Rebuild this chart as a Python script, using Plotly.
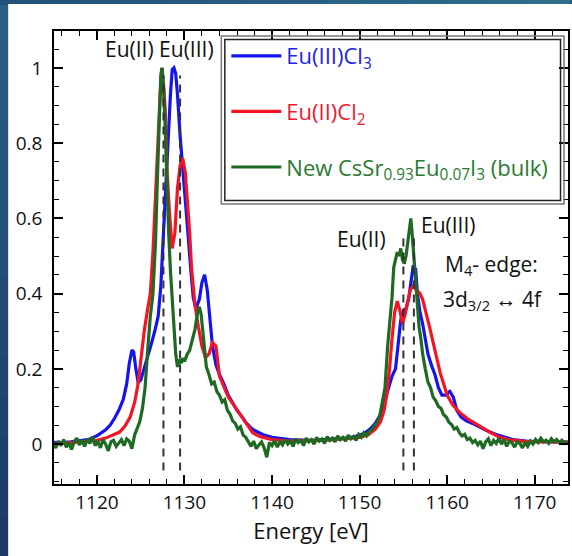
import plotly.graph_objects as go

# ---- Eu(III)Cl3 reference spectrum ----
e_eucl3 = [1115.0, 1116.0, 1117.0, 1118.0, 1119.0, 1120.0, 1121.0, 1121.5, 1122.0, 1122.5,
           1123.0, 1123.4, 1123.7, 1124.0, 1124.2, 1124.45, 1124.7, 1125.0, 1125.4, 1125.8,
           1126.2, 1126.6, 1127.0, 1127.3, 1127.6, 1127.9, 1128.1, 1128.4, 1128.6, 1128.8,
           1129.0, 1129.2, 1129.5, 1129.8, 1130.1, 1130.4, 1130.7, 1131.0, 1131.3, 1131.7,
           1132.0, 1132.3, 1132.6, 1132.9, 1133.2, 1133.6, 1134.0, 1134.5, 1135.0, 1135.5,
           1136.0, 1136.5, 1137.0, 1137.5, 1138.0, 1139.0, 1140.0, 1142.0, 1144.0, 1146.0,
           1148.0, 1149.5, 1150.5, 1151.2, 1151.8, 1152.3, 1152.7, 1153.0, 1153.3, 1153.7,
           1154.1, 1154.4, 1154.7, 1155.0, 1155.3, 1155.6, 1155.9, 1156.1, 1156.4, 1156.6,
           1156.9, 1157.2, 1157.5, 1157.8, 1158.2, 1158.6, 1159.0, 1159.4, 1159.8, 1160.3,
           1160.7, 1161.1, 1161.6, 1162.2, 1162.9, 1163.6, 1164.5, 1165.5, 1166.5, 1167.5,
           1169.0, 1171.0, 1174.0]
i_eucl3 = [0.005, 0.004, 0.006, 0.008, 0.012, 0.022, 0.038, 0.050, 0.068, 0.090,
           0.118, 0.160, 0.215, 0.250, 0.245, 0.200, 0.165, 0.170, 0.200, 0.235,
           0.265, 0.300, 0.340, 0.420, 0.560, 0.680, 0.810, 0.930, 0.995, 1.000,
           0.985, 0.930, 0.820, 0.740, 0.660, 0.560, 0.470, 0.390, 0.360, 0.385,
           0.430, 0.450, 0.410, 0.330, 0.260, 0.210, 0.185, 0.160, 0.130, 0.110,
           0.090, 0.075, 0.058, 0.045, 0.036, 0.025, 0.018, 0.012, 0.010, 0.012,
           0.015, 0.020, 0.028, 0.040, 0.055, 0.075, 0.100, 0.125, 0.150, 0.180,
           0.200, 0.260, 0.330, 0.355, 0.360, 0.385, 0.430, 0.470, 0.465, 0.400,
           0.350, 0.320, 0.280, 0.240, 0.210, 0.185, 0.150, 0.130, 0.130, 0.140,
           0.125, 0.090, 0.072, 0.062, 0.055, 0.046, 0.036, 0.026, 0.018, 0.012,
           0.008, 0.006, 0.005]

# ---- Eu(II)Cl2 reference spectrum ----
e_eucl2 = [1115.0, 1116.0, 1117.0, 1118.0, 1119.0, 1120.0, 1121.0, 1122.0, 1122.6, 1123.2,
           1123.8, 1124.3, 1124.7, 1125.0, 1125.4, 1125.8, 1126.1, 1126.4, 1126.7, 1127.0,
           1127.2, 1127.4, 1127.6, 1127.8, 1128.0, 1128.3, 1128.6, 1128.9, 1129.2, 1129.5,
           1129.8, 1130.1, 1130.4, 1130.6, 1130.8, 1131.2, 1131.6, 1132.0, 1132.4, 1132.8,
           1133.2, 1133.6, 1134.0, 1134.5, 1135.0, 1135.6, 1136.3, 1137.0, 1137.8, 1138.6,
           1140.0, 1142.0, 1144.0, 1146.0, 1148.0, 1150.0, 1151.0, 1151.8, 1152.4, 1152.8,
           1153.1, 1153.4, 1153.7, 1154.0, 1154.3, 1154.6, 1154.9, 1155.2, 1155.5, 1155.8,
           1156.1, 1156.5, 1156.9, 1157.2, 1157.6, 1158.0, 1158.4, 1158.8, 1159.2, 1159.6,
           1160.0, 1160.6, 1161.4, 1162.3, 1163.2, 1164.0, 1165.0, 1166.0, 1167.0, 1168.5,
           1170.0, 1172.0, 1174.0]
i_eucl2 = [0.000, 0.002, 0.002, 0.004, 0.006, 0.010, 0.016, 0.025, 0.032, 0.048,
           0.072, 0.110, 0.160, 0.220, 0.300, 0.360, 0.400, 0.510, 0.680, 0.800,
           0.920, 1.000, 0.960, 0.890, 0.730, 0.610, 0.520, 0.560, 0.680, 0.740,
           0.760, 0.720, 0.630, 0.560, 0.470, 0.370, 0.310, 0.260, 0.230, 0.240,
           0.270, 0.260, 0.180, 0.150, 0.125, 0.105, 0.080, 0.055, 0.030, 0.020,
           0.012, 0.008, 0.008, 0.010, 0.014, 0.018, 0.025, 0.040, 0.060, 0.090,
           0.130, 0.195, 0.280, 0.350, 0.380, 0.355, 0.320, 0.345, 0.380, 0.410,
           0.420, 0.410, 0.400, 0.385, 0.350, 0.310, 0.270, 0.225, 0.190, 0.160,
           0.130, 0.105, 0.085, 0.068, 0.055, 0.045, 0.030, 0.018, 0.012, 0.008,
           0.006, 0.006, 0.005]

# ---- CsSr0.93Eu0.07I3 bulk spectrum (noisy measurement) ----
e_cssri3 = [1115.0, 1115.3, 1115.6, 1115.9, 1116.2, 1116.5, 1116.8, 1117.1, 1117.4, 1117.7,
            1118.0, 1118.3, 1118.6, 1118.9, 1119.2, 1119.5, 1119.8, 1120.1, 1120.4, 1120.7,
            1121.0, 1121.3, 1121.6, 1121.9, 1122.2, 1122.5, 1122.8, 1123.1, 1123.4, 1123.7,
            1124.0, 1124.3, 1124.6, 1124.9, 1125.2, 1125.5, 1125.8, 1126.1, 1126.4, 1126.7,
            1126.9, 1127.1, 1127.3, 1127.45, 1127.6, 1127.8, 1128.0, 1128.2, 1128.4, 1128.6,
            1128.8, 1129.0, 1129.2, 1129.4, 1129.6, 1129.8, 1130.0, 1130.3, 1130.6, 1130.9,
            1131.2, 1131.5, 1131.7, 1131.9, 1132.1, 1132.3, 1132.5, 1132.8, 1133.1, 1133.4,
            1133.7, 1134.0, 1134.3, 1134.6, 1134.9, 1135.2, 1135.5, 1135.8, 1136.1, 1136.4,
            1136.7, 1137.0, 1137.3, 1137.6, 1137.9, 1138.2, 1138.5, 1138.8, 1139.1, 1139.4,
            1139.7, 1140.0, 1140.3, 1140.6, 1140.9, 1141.2, 1141.5, 1141.8, 1142.1, 1142.4,
            1142.7, 1143.0, 1143.3, 1143.6, 1143.9, 1144.2, 1144.5, 1144.8, 1145.1, 1145.4,
            1145.7, 1146.0, 1146.3, 1146.6, 1146.9, 1147.2, 1147.5, 1147.8, 1148.1, 1148.4,
            1148.7, 1149.0, 1149.3, 1149.6, 1149.9, 1150.2, 1150.5, 1150.8, 1151.1, 1151.4,
            1151.7, 1152.0, 1152.3, 1152.6, 1152.9, 1153.2, 1153.5, 1153.7, 1153.9, 1154.1,
            1154.3, 1154.5, 1154.7, 1154.9, 1155.1, 1155.3, 1155.5, 1155.7, 1155.85, 1156.0,
            1156.2, 1156.4, 1156.6, 1156.8, 1157.0, 1157.2, 1157.5, 1157.8, 1158.1, 1158.4,
            1158.7, 1159.0, 1159.3, 1159.6, 1159.9, 1160.2, 1160.5, 1160.8, 1161.1, 1161.4,
            1161.7, 1162.0, 1162.3, 1162.6, 1162.9, 1163.2, 1163.5, 1163.8, 1164.1, 1164.4,
            1164.7, 1165.0, 1165.3, 1165.6, 1165.9, 1166.2, 1166.5, 1166.8, 1167.1, 1167.4,
            1167.7, 1168.0, 1168.3, 1168.6, 1168.9, 1169.2, 1169.5, 1169.8, 1170.1, 1170.4,
            1170.7, 1171.0, 1171.3, 1171.6, 1171.9, 1172.2, 1172.5, 1172.8, 1173.1, 1173.4,
            1173.7]
i_cssri3 = [0.000, -0.010, 0.008, -0.004, 0.012, -0.008, 0.004, -0.014, 0.006, 0.016,
            -0.002, 0.010, -0.006, 0.014, 0.002, 0.020, -0.004, 0.008, -0.010, 0.012,
            0.000, -0.018, 0.006, 0.010, -0.006, 0.004, 0.012, -0.004, 0.014, 0.008,
            -0.012, 0.024, 0.040, 0.060, 0.095, 0.150, 0.250, 0.340, 0.400, 0.540,
            0.700, 0.880, 0.980, 1.000, 0.950, 0.840, 0.690, 0.560, 0.460, 0.380,
            0.300, 0.240, 0.205, 0.225, 0.215, 0.228, 0.220, 0.238, 0.250, 0.275,
            0.305, 0.350, 0.365, 0.345, 0.300, 0.245, 0.205, 0.185, 0.160, 0.165,
            0.140, 0.130, 0.112, 0.118, 0.090, 0.080, 0.062, 0.055, 0.040, 0.046,
            0.024, 0.018, 0.004, -0.006, 0.008, -0.012, -0.002, 0.006, -0.010, -0.035,
            0.004, -0.004, 0.010, -0.008, 0.006, -0.002, 0.012, 0.000, 0.008, -0.006,
            0.014, 0.004, 0.010, -0.004, 0.016, 0.006, 0.012, 0.000, 0.018, 0.008,
            0.014, 0.002, 0.020, 0.010, 0.016, 0.006, 0.022, 0.012, 0.018, 0.008,
            0.024, 0.014, 0.020, 0.010, 0.026, 0.018, 0.030, 0.022, 0.034, 0.038,
            0.048, 0.058, 0.075, 0.110, 0.150, 0.260, 0.340, 0.390, 0.470, 0.495,
            0.510, 0.500, 0.520, 0.490, 0.480, 0.500, 0.540, 0.580, 0.600, 0.560,
            0.500, 0.430, 0.360, 0.310, 0.280, 0.240, 0.200, 0.165, 0.150, 0.125,
            0.115, 0.100, 0.095, 0.078, 0.072, 0.058, 0.052, 0.040, 0.044, 0.030,
            0.022, 0.026, 0.012, 0.016, 0.004, 0.010, -0.002, 0.008, -0.012, 0.006,
            0.014, -0.004, 0.010, 0.002, 0.016, 0.000, 0.012, -0.006, 0.008, 0.004,
            -0.008, 0.006, 0.002, -0.010, 0.004, -0.006, 0.008, 0.000, 0.012, 0.004,
            0.016, 0.006, 0.010, 0.002, 0.014, 0.006, 0.012, 0.004, 0.010, 0.002,
            0.008]

# Eu(II) / Eu(III) reference energies for the M5 and M4 edges (dashed markers)
m5_lines = [1127.6, 1129.5]
m4_lines = [1155.0, 1156.2]
m5_line_span = [-0.07, 0.98]
m4_line_span = [-0.07, 0.55]

# Axis limits and ticks
x_range = [1115.1, 1173.8]
y_range = [-0.106, 1.098]
x_ticks = [1120, 1130, 1140, 1150, 1160, 1170]
y_ticks = [0, 0.2, 0.4, 0.6, 0.8, 1.0]
y_tick_text = ["0", "0.2", "0.4", "0.6", "0.8", "1"]

BLUE = "#1414f0"
RED = "#f51424"
GREEN = "#1f6a22"
FONT = "Open Sans"
INK = "#111111"

fig = go.Figure()

series = [
    (e_eucl3, i_eucl3, BLUE, '<span style="color:#2323e6">Eu(III)Cl<sub>3</sub></span>'),
    (e_eucl2, i_eucl2, RED, '<span style="color:#ee1a2e">Eu(II)Cl<sub>2</sub></span>'),
    (e_cssri3, i_cssri3, GREEN,
     '<span style="color:#2b7a30">New CsSr<sub>0.93</sub>Eu<sub>0.07</sub>I<sub>3</sub> (bulk)</span>'),
]
for k, (ex, iy, col, name) in enumerate(series):
    fig.add_trace(go.Scatter(x=ex, y=iy, mode="lines", name=name,
                             legendgroup=f"g{k}",
                             line=dict(color=col, width=3.2)))

# dashed reference markers
for e in m5_lines:
    fig.add_trace(go.Scatter(x=[e, e], y=m5_line_span, mode="lines", showlegend=False,
                             line=dict(color="#333333", width=2, dash="8px,6px"),
                             hoverinfo="skip"))
for e in m4_lines:
    fig.add_trace(go.Scatter(x=[e, e], y=m4_line_span, mode="lines", showlegend=False,
                             line=dict(color="#333333", width=2, dash="8px,6px"),
                             hoverinfo="skip"))

W, H = 572, 556
L, R, T, B = 54, 2, 31, 72
pw, ph = W - L - R, H - T - B


def px_x(p):
    return (p - L) / pw


def px_y(p):
    return (H - B - p) / ph


def mix(c1, c2, t):
    a = [int(c1[i:i + 2], 16) for i in (1, 3, 5)]
    b = [int(c2[i:i + 2], 16) for i in (1, 3, 5)]
    return "#" + "".join(f"{round(x + (y - x) * t):02x}" for x, y in zip(a, b))


shapes = []
# dark slide frame: vertical gradient on the left strip, horizontal one along the top
n = 14
for k in range(n):
    shapes.append(dict(type="rect", xref="paper", yref="paper", layer="below",
                       x0=px_x(-2), x1=px_x(9),
                       y0=px_y(k * H / n), y1=px_y((k + 1) * H / n + 1),
                       fillcolor=mix("#2a5e84", "#1b3b66", k / (n - 1)), line=dict(width=0)))
    shapes.append(dict(type="rect", xref="paper", yref="paper", layer="below",
                       x0=px_x(k * W / n), x1=px_x((k + 1) * W / n + 1),
                       y0=px_y(5), y1=px_y(-2),
                       fillcolor=mix("#22507a", "#2f6d8b", k / (n - 1)), line=dict(width=0)))
# white page panel
shapes.append(dict(type="rect", xref="paper", yref="paper", layer="below",
                   x0=px_x(8), x1=px_x(W + 2), y0=px_y(H + 2), y1=px_y(4),
                   fillcolor="white", line=dict(width=0)))
# legend frame (double line)
shapes.append(dict(type="rect", xref="paper", yref="paper",
                   x0=px_x(222), x1=px_x(566), y0=px_y(204), y1=px_y(36),
                   fillcolor="rgba(255,255,255,0)", line=dict(color="#777777", width=1.5)))
shapes.append(dict(type="rect", xref="paper", yref="paper",
                   x0=px_x(225.5), x1=px_x(562.5), y0=px_y(200.5), y1=px_y(39.5),
                   fillcolor="rgba(255,255,255,0)", line=dict(color="#222222", width=1.5)))

ann_font = dict(size=21, color=INK, family=FONT)
annotations = [
    dict(x=1127.2, y=1.050, xref="x", yref="y", text="Eu(II) Eu(III)", showarrow=False,
         font=ann_font),
    dict(x=1150.25, y=0.545, xref="x", yref="y", text="Eu(II)", showarrow=False,
         font=ann_font),
    dict(x=1160.2, y=0.582, xref="x", yref="y", text="Eu(III)", showarrow=False,
         font=ann_font),
    dict(x=1159.5, y=0.476, xref="x", yref="y", text="M<sub>4</sub>- edge:", showarrow=False,
         xanchor="left", font=ann_font),
    dict(x=1159.3, y=0.383, xref="x", yref="y", text="3d<sub>3/2</sub> \u2194 4f",
         showarrow=False, xanchor="left", font=ann_font),
]

axis_common = dict(
    showgrid=False, zeroline=False, showline=True, linecolor="#000000", linewidth=1.6,
    mirror="ticks", ticks="inside", ticklen=9, tickwidth=1.6, tickcolor="#000000",
    tickfont=dict(size=19, color=INK, family=FONT),
)

fig.update_layout(
    width=W, height=H,
    margin=dict(l=L, r=R, t=T, b=B, pad=0),
    paper_bgcolor="#22507a",
    plot_bgcolor="white",
    font=dict(family=FONT, color=INK),
    shapes=shapes,
    annotations=annotations,
    showlegend=True,
    legend=dict(x=px_x(227), y=px_y(35), xanchor="left", yanchor="top",
                bgcolor="rgba(0,0,0,0)", borderwidth=0,
                font=dict(size=22, family=FONT),
                itemwidth=50, tracegroupgap=24, traceorder="grouped"),
    xaxis=dict(range=x_range, tickvals=x_ticks,
               minor=dict(dtick=2, tick0=1120, ticks="inside", ticklen=5, tickwidth=1.4,
                          tickcolor="#000000"),
               title=dict(text="Energy [eV]", font=dict(size=22, color=INK, family=FONT),
                          standoff=6),
               **axis_common),
    yaxis=dict(range=y_range, tickvals=y_ticks, ticktext=y_tick_text,
               minor=dict(dtick=0.05, tick0=0, ticks="inside", ticklen=5, tickwidth=1.4,
                          tickcolor="#000000"),
               ticklabelstandoff=6,
               **axis_common),
)

fig.write_html("out.html")
